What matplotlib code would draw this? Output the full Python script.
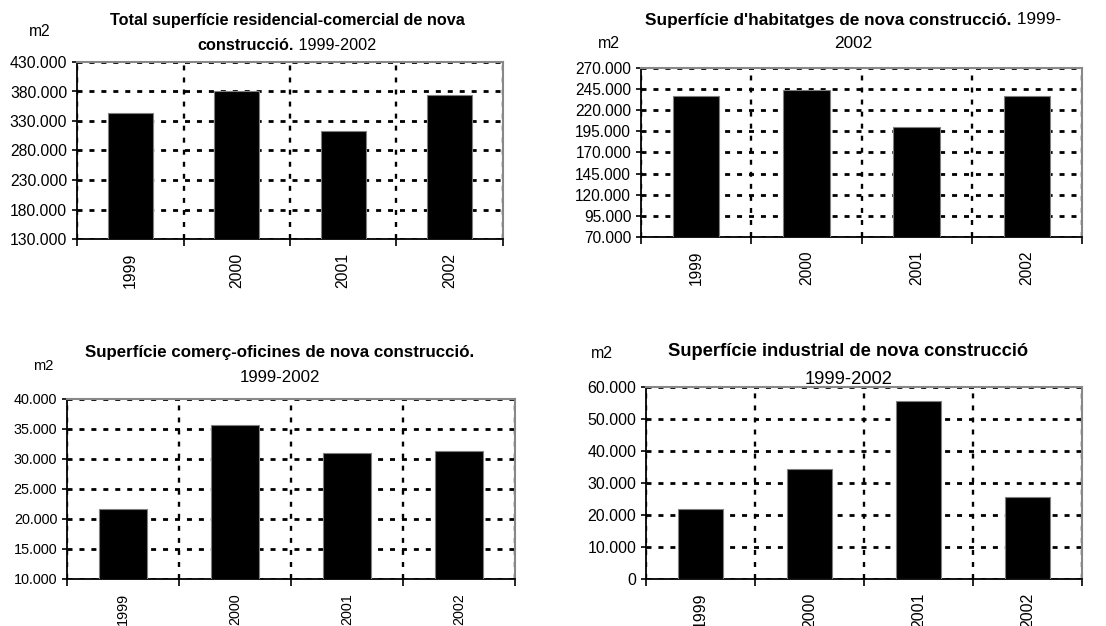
import matplotlib
matplotlib.use('agg')
import matplotlib.pyplot as plt
from matplotlib.ticker import FuncFormatter
import numpy as np

plt.rcParams['font.family'] = ['Liberation Sans', 'DejaVu Sans']

years = ['1999', '2000', '2001', '2002']

total_vals = [344000, 381000, 313000, 374500]
habit_vals = [236500, 244000, 200500, 236500]
comerc_vals = [21700, 35700, 31000, 31400]
indust_vals = [22000, 34500, 55600, 25700]

total_ticks = [130000, 180000, 230000, 280000, 330000, 380000, 430000]
habit_ticks = [70000, 95000, 120000, 145000, 170000, 195000, 220000, 245000, 270000]
comerc_ticks = [10000, 15000, 20000, 25000, 30000, 35000, 40000]
indust_ticks = [0, 10000, 20000, 30000, 40000, 50000, 60000]

W, H = 1106, 626

fig = plt.figure(figsize=(W / 100, H / 100), dpi=100)
fig.patch.set_facecolor('white')


def thousands(v, pos):
  s = '{:,.0f}'.format(v)
  return s.replace(',', '.')


def px_axes(l, t, r, b):
  return fig.add_axes([l / W, 1 - b / H, (r - l) / W, (b - t) / H])


def bar_chart(ax, vals, ticks, fs):
  x = np.arange(len(years)) + 0.5
  ax.set_axisbelow(True)
  ax.bar(x, vals, width=0.42, color='black', edgecolor='#808080', linewidth=0.8, zorder=3)
  ax.set_xlim(0, len(years))
  ax.set_ylim(ticks[0], ticks[-1])
  ax.set_yticks(ticks)
  ax.yaxis.set_major_formatter(FuncFormatter(thousands))
  ax.set_xticks(np.arange(len(years) + 1))
  ax.set_xticklabels([])
  ax.set_xticks(x, minor=True)
  ax.set_xticklabels(years, minor=True, rotation=90)
  ax.tick_params(axis='x', which='minor', length=0, pad=10, labelsize=fs)
  ax.tick_params(axis='x', which='major', length=5, width=1.2, direction='out')
  ax.tick_params(axis='y', length=3.6, width=1.2, direction='out', labelsize=fs, pad=3.5)
  ax.yaxis.grid(True, which='major', color='black', linestyle=(0, (1.8, 2.5)), linewidth=2.0)
  ax.xaxis.grid(True, which='major', color='black', linestyle=(0, (2.1, 3.0)), linewidth=1.7)
  for s in ['left', 'bottom']:
    ax.spines[s].set_color('black')
    ax.spines[s].set_linewidth(1.3)
  for s in ['top', 'right']:
    ax.spines[s].set_color('#888888')
    ax.spines[s].set_linewidth(1.5)


def mixed_line(xc, y, bold, normal, fs):
  r = fig.canvas.get_renderer()
  tb = fig.text(0, 1 - y / H, bold, fontsize=fs, fontweight='bold', ha='left', va='center')
  tn = fig.text(0, 1 - y / H, normal, fontsize=fs, ha='left', va='center')
  wb = tb.get_window_extent(r).width
  wn = tn.get_window_extent(r).width
  x0 = xc - (wb + wn) / 2
  tb.set_x(x0 / W)
  tn.set_x((x0 + wb) / W)


def label(x, y, s, fs, bold=False):
  fig.text(x / W, 1 - y / H, s, fontsize=fs, ha='center', va='center',
           fontweight='bold' if bold else 'normal')


ax1 = px_axes(77, 62, 503, 239)
bar_chart(ax1, total_vals, total_ticks, 11.3)
label(287, 21, 'Total superfície residencial-comercial de nova', 11.7, bold=True)
mixed_line(287, 45, 'construcció.', ' 1999-2002', 11.7)
label(40, 32, 'm2', 11.2)

ax2 = px_axes(641, 68, 1082, 237)
bar_chart(ax2, habit_vals, habit_ticks, 11.2)
mixed_line(853, 20, "Superfície d'habitatges de nova construcció.", ' 1999-', 12.4)
label(853, 44, '2002', 12.4)
label(609, 43, 'm2', 11.5)

ax3 = px_axes(67, 399, 515, 579)
bar_chart(ax3, comerc_vals, comerc_ticks, 10.4)
label(280, 352, 'Superfície comerç-oficines de nova construcció.', 12.2, bold=True)
label(280, 377, '1999-2002', 12.2)
label(43, 366, 'm2', 10.5)

ax4 = px_axes(646, 387, 1082, 579)
bar_chart(ax4, indust_vals, indust_ticks, 11.5)
label(848, 352, 'Superfície industrial de nova construcció', 13.2, bold=True)
label(849, 380, '1999-2002', 13.2)
label(602, 353, 'm2', 11.5)

fig.savefig('out.png', dpi=100)
